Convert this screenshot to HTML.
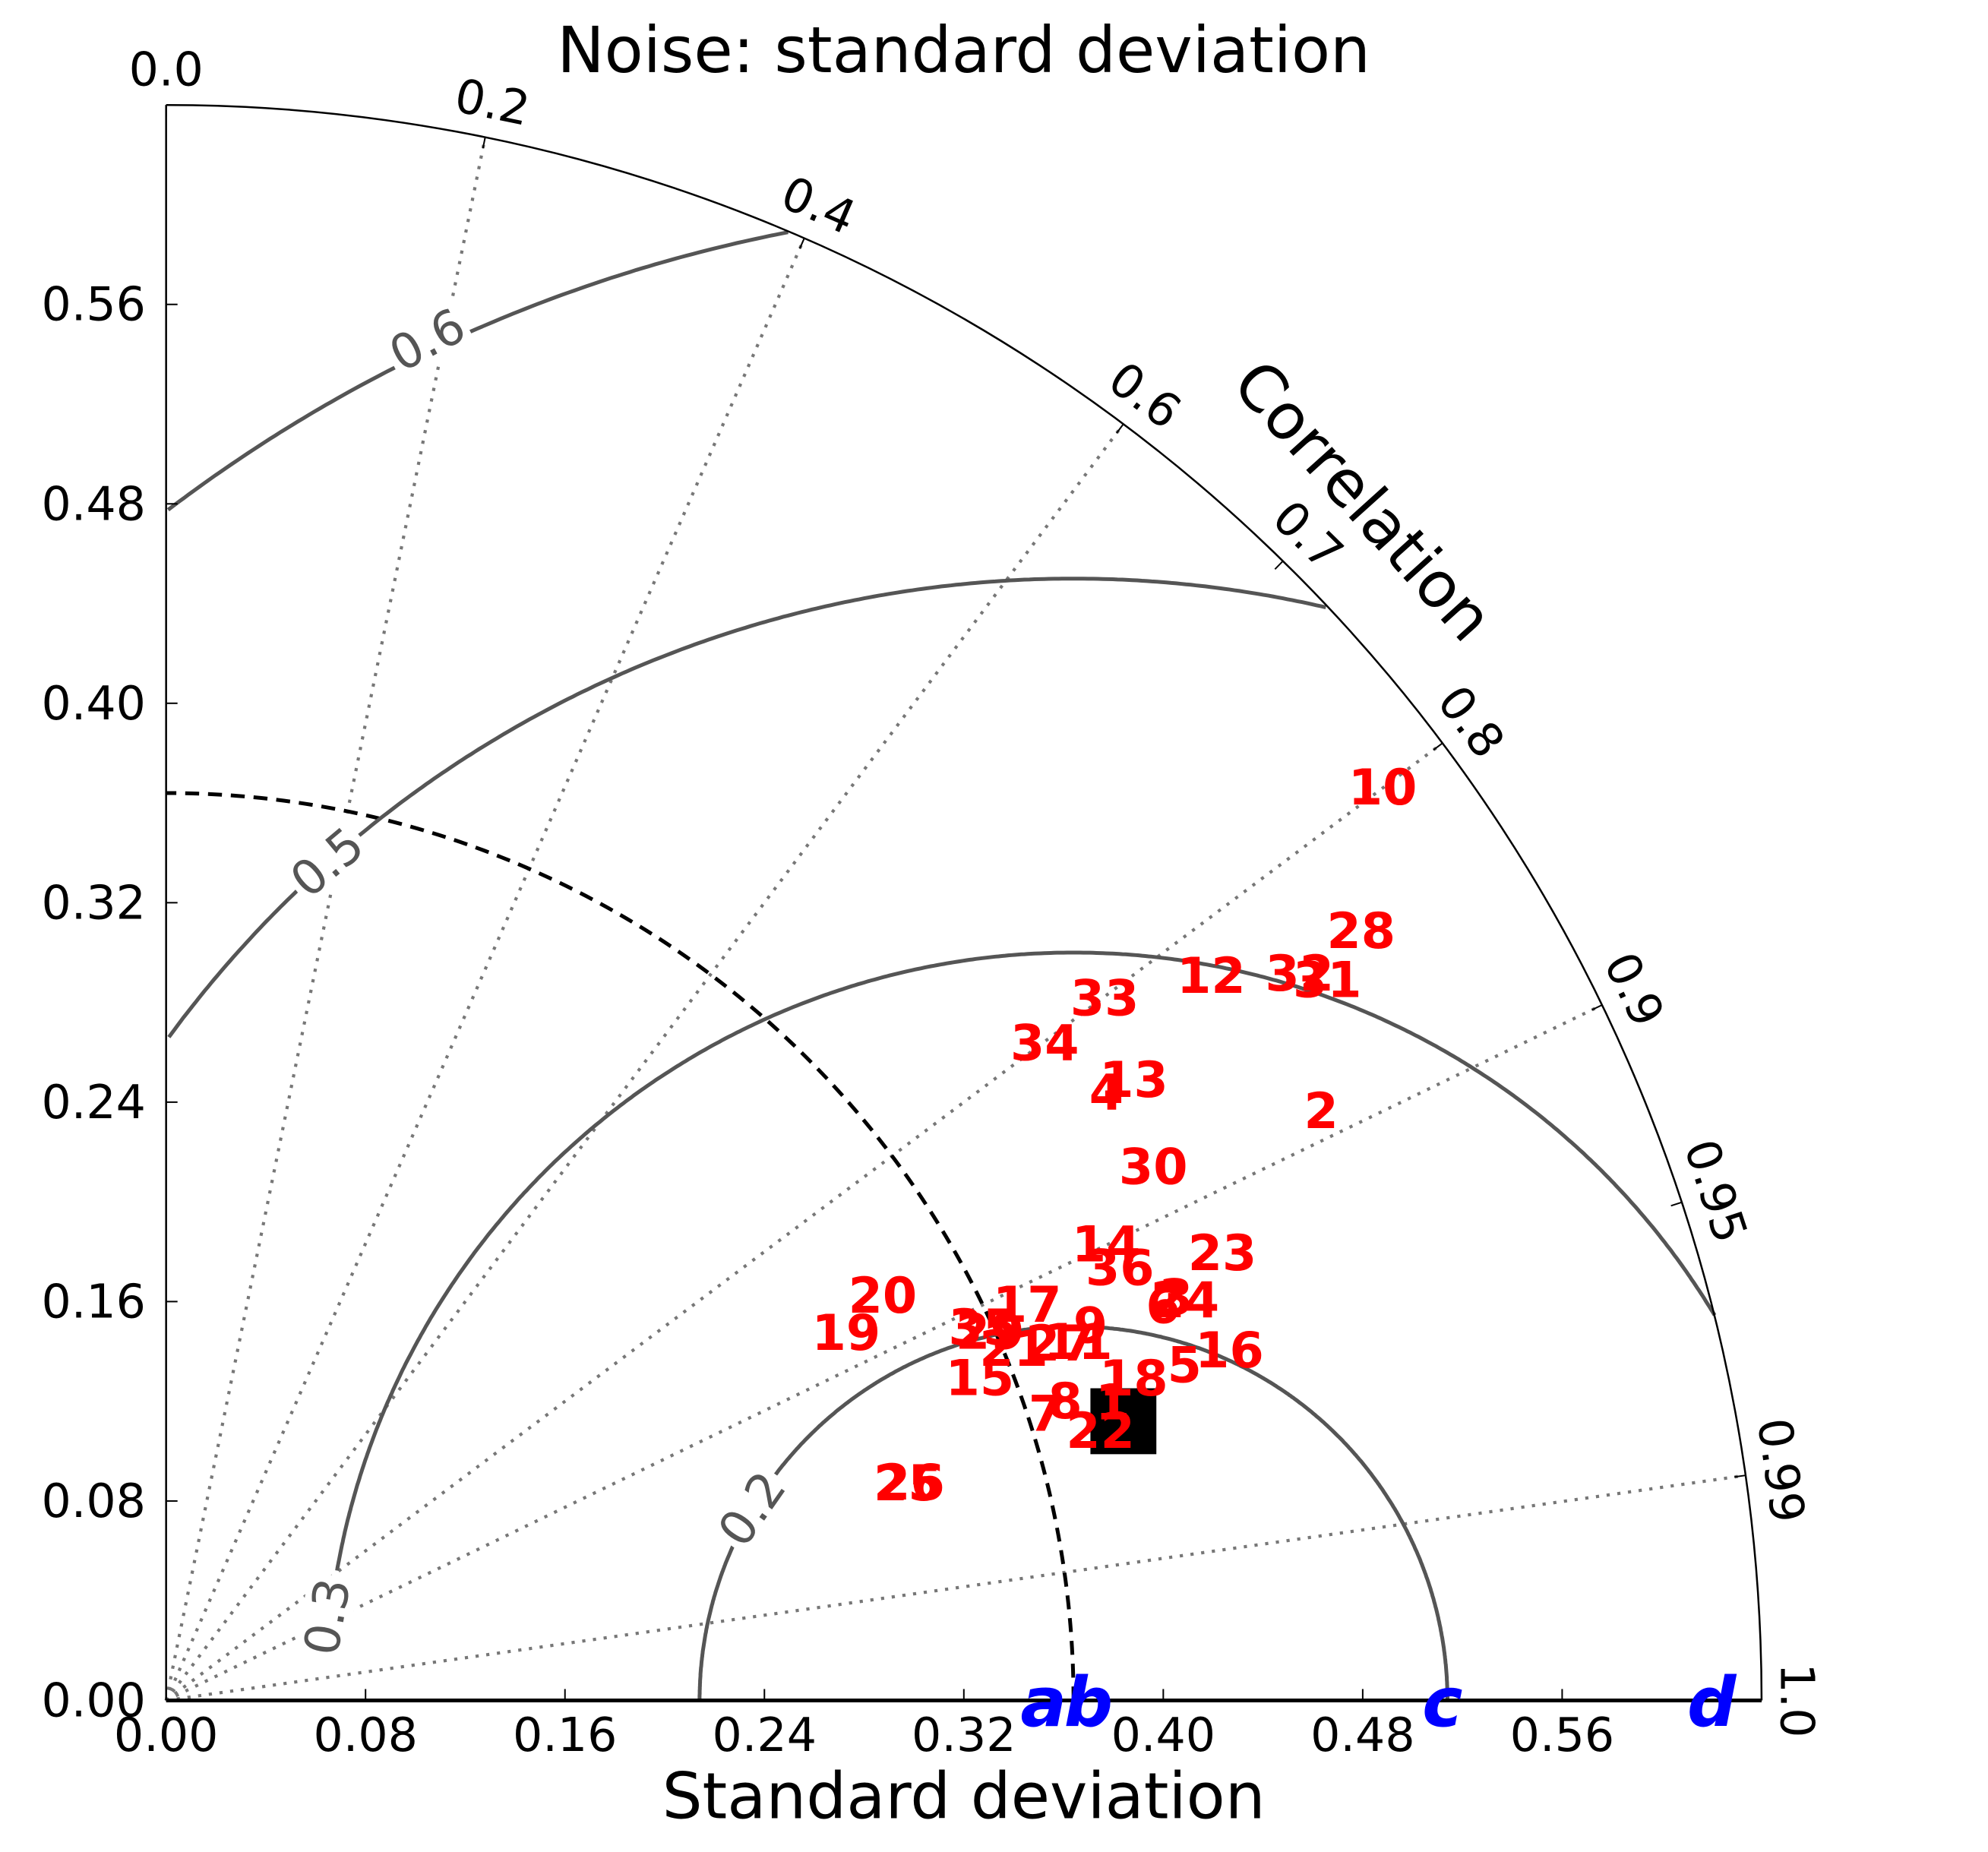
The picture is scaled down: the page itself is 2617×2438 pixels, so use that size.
<!DOCTYPE html>
<html><head><meta charset="utf-8"><style>
html,body{margin:0;padding:0;background:#fff}
svg{display:block}
text{font-family:"DejaVu Sans","Liberation Sans",sans-serif}
</style></head><body>
<svg id="chart" xmlns="http://www.w3.org/2000/svg" width="2617" height="2438" viewBox="0 0 1567.8 1460.5">
<rect x="0" y="0" width="1567.8" height="1460.5" fill="#fff"/>
<text x="760" y="57" font-size="50" text-anchor="middle">Noise: standard deviation</text>
<text x="760" y="1434" font-size="50" text-anchor="middle">Standard deviation</text>
<text x="1075" y="395" font-size="50" text-anchor="middle" dominant-baseline="central" transform="rotate(48 1075 395)">Correlation</text>
<g id="grid"></g>
<g id="contours"></g>
<g id="axes"></g>
<g id="marks"></g>
</svg>
<script>
// ---- data ----
const pointLabels = ["1","2","3","4","5","6","7","8","9","10","11","12","13","14","15","16","17","18","19","20","21","22","23","24","25","26","27","28","29","30","31","32","33","34","35","36"];
const pointStd  = [0.398,0.520,0.436,0.449,0.430,0.430,0.371,0.380,0.400,0.610,0.393,0.510,0.461,0.419,0.351,0.449,0.380,0.409,0.310,0.330,0.368,0.390,0.460,0.439,0.310,0.311,0.386,0.570,0.362,0.450,0.548,0.540,0.470,0.440,0.360,0.420];
const pointCorr = [0.954,0.891,0.929,0.840,0.950,0.930,0.951,0.949,0.927,0.800,0.931,0.822,0.842,0.900,0.930,0.950,0.909,0.949,0.880,0.871,0.924,0.961,0.921,0.931,0.960,0.960,0.929,0.841,0.913,0.880,0.850,0.842,0.801,0.801,0.910,0.911];
const refStd = 0.364;
const obsStd = 0.400, obsCorr = 0.960;
const xTicks = [0.00,0.08,0.16,0.24,0.32,0.40,0.48,0.56];
const yTicks = [0.00,0.08,0.16,0.24,0.32,0.40,0.48,0.56];
const corrTicks = [0.0,0.2,0.4,0.6,0.7,0.8,0.9,0.95,0.99,1.0];
const corrLines = [0.2,0.4,0.6,0.8,0.9,0.99];
const rmsLevels = [0.15,0.30,0.45,0.60];
const rmsLabels = ["0.2","0.3","0.5","0.6"];
const blueLetters = ["a","b","c","d"];
const blueStd = [0.352,0.370,0.512,0.620];
const maxStd = 0.64;

// ---- scales ----
const OX=131, OY=1341, K=1966, R=maxStd*K;
const sx = v => OX + v*K;
const sy = v => OY - v*K;
function polar(std, corr){const t=Math.acos(Math.min(1,corr));return [OX+std*K*Math.cos(t), OY-std*K*Math.sin(t)];}
const NS="http://www.w3.org/2000/svg";
function mk(tag, attrs, parent){const e=document.createElementNS(NS,tag);for(const k in attrs)e.setAttribute(k,attrs[k]);parent.appendChild(e);return e;}
const grid=document.getElementById('grid'), cont=document.getElementById('contours'), axes=document.getElementById('axes'), marks=document.getElementById('marks');

corrLines.forEach(c=>{
  const [x,y]=polar(maxStd,c);
  const l=mk('line',{x1:OX,y1:OY,x2:x,y2:y,stroke:'#777','stroke-width':2.5,'stroke-dasharray':'2.5 6'},grid);
  
  
});

rmsLevels.forEach((lv,i)=>{
  const cx=sx(refStd), rr=lv*K; let d=''; let pen=false;
  for(let a=0;a<=180;a+=0.25){
    const t=a*Math.PI/180; const x=cx+rr*Math.cos(t), y=OY-rr*Math.sin(t);
    const inside = Math.hypot(x-OX,OY-y)<=R+0.5 && x>=OX && !(i===1 && a>170);
    if(inside){d+=(pen?'L':'M')+x.toFixed(1)+' '+y.toFixed(1);pen=true;} else pen=false;
  }
  const p=mk('path',{d:d,fill:'none',stroke:'#555','stroke-width':3},cont);
  
  
});
const cl=[[593,1190,-55],[258,1275,-80],[258,680,-40],[337,268,-28]];
rmsLabels.forEach((s,i)=>{
  const [x,y,r]=cl[i];
  mk('rect',{x:x-33,y:y-20,width:66,height:40,fill:'#fff',transform:`rotate(${r} ${x} ${y})`},cont);
  const t=mk('text',{x:x,y:y,'font-size':38,fill:'#555','text-anchor':'middle','dominant-baseline':'central',transform:`rotate(${r} ${x} ${y})`},cont);
  t.textContent=s;
  
  
});

{const r=refStd*K;const p=mk('path',{d:`M${OX+r} ${OY} A${r} ${r} 0 0 0 ${OX} ${OY-r}`,fill:'none',stroke:'#000','stroke-width':3,'stroke-dasharray':'11 7'},grid);

}

{const p=mk('path',{d:`M${OX+R} ${OY} A${R} ${R} 0 0 0 ${OX} ${OY-R}`,fill:'none',stroke:'#000','stroke-width':1.5},axes);

}
{const l=mk('line',{x1:OX,y1:OY,x2:OX+R,y2:OY,stroke:'#000','stroke-width':3},axes);

}
{const l=mk('line',{x1:OX,y1:OY,x2:OX,y2:OY-R,stroke:'#000','stroke-width':1.5},axes);

}

xTicks.forEach(v=>{
  mk('line',{x1:sx(v),y1:OY,x2:sx(v),y2:OY-9,stroke:'#000','stroke-width':1.2},axes);
  const t=mk('text',{x:sx(v),y:OY+40,'font-size':37,'text-anchor':'middle'},axes);
  t.textContent=v.toFixed(2);
  
  
});
yTicks.forEach(v=>{
  mk('line',{x1:OX,y1:sy(v),x2:OX+9,y2:sy(v),stroke:'#000','stroke-width':1.2},axes);
  const t=mk('text',{x:OX-16,y:sy(v),'font-size':37,'text-anchor':'end','dominant-baseline':'central'},axes);
  t.textContent=v.toFixed(2);
  
  
});
corrTicks.forEach(c=>{
  const th=Math.acos(c);
  const [x1,y1]=polar(maxStd,c);
  const x2=OX+(R-9)*Math.cos(th), y2=OY-(R-9)*Math.sin(th);
  mk('line',{x1:x1,y1:y1,x2:x2,y2:y2,stroke:'#000','stroke-width':1.2},axes);
  const rl=R+28, lx=OX+rl*Math.cos(th), ly=OY-rl*Math.sin(th);
  const rot=90-th*180/Math.PI;
  const t=mk('text',{x:lx,y:ly,'font-size':37,'text-anchor':'middle','dominant-baseline':'central',transform:`rotate(${rot} ${lx} ${ly})`},axes);
  t.textContent=(c===0||c===1)?c.toFixed(1):String(c);
  
  
});

{const [x,y]=polar(obsStd,obsCorr);const r=mk('rect',{x:x-26,y:y-26,width:52,height:52,fill:'#000'},marks);

}

pointLabels.forEach((s,i)=>{
  const [x,y]=polar(pointStd[i],pointCorr[i]);
  const t=mk('text',{x:x,y:y,'font-size':39,'font-weight':'bold',fill:'#f00','text-anchor':'middle','dominant-baseline':'central'},marks);
  t.textContent=s;
  
  
});

blueLetters.forEach((s,i)=>{
  const t=mk('text',{x:sx(blueStd[i]),y:OY+20,'font-size':54,'font-weight':'bold','font-style':'italic',fill:'#00f','text-anchor':'middle'},marks);
  t.textContent=s;
  
  
});
</script>
</body></html>
